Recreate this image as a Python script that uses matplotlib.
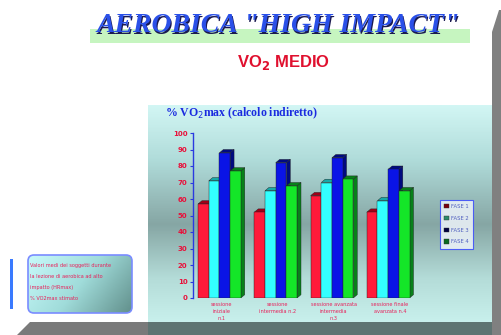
import numpy as np
import matplotlib
matplotlib.use("Agg")
import matplotlib.pyplot as plt
from matplotlib.patches import Polygon, Rectangle, FancyBboxPatch, Patch
from matplotlib.colors import LinearSegmentedColormap

# data
groups = ["sessione\niniziale\nn.1", "sessione\nintermedia n.2",
          "sessione avanzata\nintermedia\nn.3", "sessione finale\navanzata n.4"]
series = ["FASE 1", "FASE 2", "FASE 3", "FASE 4"]
fase1 = [57, 52, 62, 52]
fase2 = [71, 65, 70, 59]
fase3 = [88, 82, 85, 78]
fase4 = [77, 68, 72, 65]
yticks = [0, 10, 20, 30, 40, 50, 60, 70, 80, 90, 100]

box_lines = ["Valori medi dei soggetti durante",
             "la lezione di aerobica ad alto",
             "impatto (HRmax)",
             "% VO2max stimato"]

face = ["#ff1a3a", "#33ffff", "#0a14e6", "#14e628"]
side = ["#a00018", "#18a8a8", "#000a80", "#08801a"]
legend_col = ["#7a0010", "#2a8a6a", "#000040", "#0a6a20"]

W, H = 502, 335
fig = plt.figure(figsize=(W / 100, H / 100), dpi=100)
fig.patch.set_facecolor("white")

# background layer in pixel coordinates
bg = fig.add_axes([0, 0, 1, 1])
bg.set_xlim(0, W)
bg.set_ylim(H, 0)
bg.axis("off")

# right and bottom gray shadows
bg.add_patch(Polygon([(492, 32), (499, 10), (502, 10), (502, 335), (492, 335)],
                     closed=True, color="#808080", lw=0))
bg.add_patch(Polygon([(17, 335), (30, 322), (492, 322), (492, 335)],
                     closed=True, color="#7a7a7a", lw=0))

# chart panel gradient
panel_cmap = LinearSegmentedColormap.from_list(
    "panel", [(0, "#d2f6f4"), (0.25, "#b0dcda"), (0.55, "#86a6a4"),
              (0.8, "#b4dcd8"), (1, "#c8f0ec")])
grad = np.linspace(0, 1, 200).reshape(-1, 1)
bg.imshow(grad, cmap=panel_cmap, extent=[148, 492, 322, 105], aspect="auto", zorder=1)
bg.add_patch(Rectangle((148, 322), 344, 13, color="#5e7472", lw=0, zorder=1))

# titles
bg.add_patch(Rectangle((90, 29), 380, 14, color="#c6f5c0", lw=0, zorder=2))
bg.text(279.5, 27.5, 'AEROBICA "HIGH IMPACT"', ha="center", va="center",
        fontsize=20, fontfamily="Liberation Serif", fontweight="bold",
        fontstyle="italic", color="#1a1a50", zorder=3)
bg.text(278, 26, 'AEROBICA "HIGH IMPACT"', ha="center", va="center",
        fontsize=20, fontfamily="Liberation Serif", fontweight="bold",
        fontstyle="italic", color="#2a50e8", zorder=4)
bg.text(284, 62, r"VO$_\mathbf{2}$ MEDIO", ha="center", va="center",
        fontsize=12, fontweight="bold", fontfamily="Liberation Sans",
        color="#e0102e", zorder=3)
bg.text(165, 113, r"% VO$_2$max (calcolo indiretto)", ha="left", va="center",
        fontsize=8.5, fontweight="bold", fontfamily="Liberation Serif",
        color="#1a2ae0", zorder=3)

# bottom-left note box
bg.add_patch(Rectangle((10, 259), 3, 50, color="#3a7aff", lw=0, zorder=2))
box_cmap = LinearSegmentedColormap.from_list("box", ["#c8fafa", "#a0dcda", "#62908c"])
gx, gy = np.meshgrid(np.linspace(0, 1, 100), np.linspace(0, 1, 60))
box_img = bg.imshow(0.7 * gx + 0.3 * gy, cmap=box_cmap, extent=[28, 132, 313, 255],
                    aspect="auto", zorder=2)
box = FancyBboxPatch((28, 255), 104, 58, boxstyle="round,pad=0,rounding_size=6",
                     fc="none", ec="#7a8cff", lw=1.2, zorder=3)
bg.add_patch(box)
box_img.set_clip_path(box)
for i, line in enumerate(box_lines):
    bg.text(30, 266 + i * 11, line, fontsize=3.6, color="#e8205a",
            va="center", ha="left", zorder=4)

# bar chart
ax = fig.add_axes([193 / W, (H - 298) / H, (418 - 193) / W, (298 - 133) / H])
ax.set_facecolor("none")
ax.set_xlim(-0.5, 3.5)
ax.set_ylim(0, 100)
x = np.arange(len(groups))
bw = 0.19
dx, dy = 0.07, 2.0
for k, vals in enumerate([fase1, fase2, fase3, fase4]):
    xs = x - 1.5 * bw + k * bw - 0.03
    ax.bar(xs, vals, width=bw, color=face[k], edgecolor="#202020", lw=0.3,
           zorder=3 + k * 0.1, label=series[k])
    for xi, v in zip(xs, vals):
        r = xi + bw / 2
        l = xi - bw / 2
        ax.add_patch(Polygon([(r, 0), (r + dx, dy), (r + dx, v + dy), (r, v)],
                             closed=True, fc=side[k], ec="#202020", lw=0.3,
                             zorder=3 + k * 0.1 - 0.05))
        ax.add_patch(Polygon([(l, v), (l + dx, v + dy), (r + dx, v + dy), (r, v)],
                             closed=True, fc=side[k], ec="#202020", lw=0.3,
                             zorder=3 + k * 0.1 - 0.05))

for s in ["top", "right", "bottom"]:
    ax.spines[s].set_visible(False)
ax.spines["left"].set_color("#2a3ae0")
ax.spines["left"].set_linewidth(1)
ax.set_yticks(yticks)
ax.set_yticklabels([str(t) for t in yticks], fontsize=5, fontweight="bold",
                   color="#e8103a")
ax.tick_params(axis="y", colors="#2a3ae0", length=2.5, width=0.8, pad=1.5,
               labelcolor="#e8103a")
ax.set_xticks(x)
ax.set_xticklabels(groups, fontsize=3.6, color="#e8205a", linespacing=1.5)
ax.tick_params(axis="x", length=0, pad=3)

handles = [Patch(facecolor=c, edgecolor="#303030", lw=0.3) for c in legend_col]
leg = fig.legend(handles, series, loc="upper left",
                 bbox_to_anchor=(437 / W, (H - 197) / H),
                 fontsize=3.8, frameon=True, fancybox=False,
                 handlelength=0.9, handleheight=0.9, labelspacing=1.3,
                 borderpad=0.8, handletextpad=0.5)
leg.get_frame().set_edgecolor("#3040ff")
leg.get_frame().set_linewidth(0.8)
leg.get_frame().set_facecolor("#f4f8ff")
for t in leg.get_texts():
    t.set_color("#5060c0")

fig.savefig("out.png", dpi=100)
